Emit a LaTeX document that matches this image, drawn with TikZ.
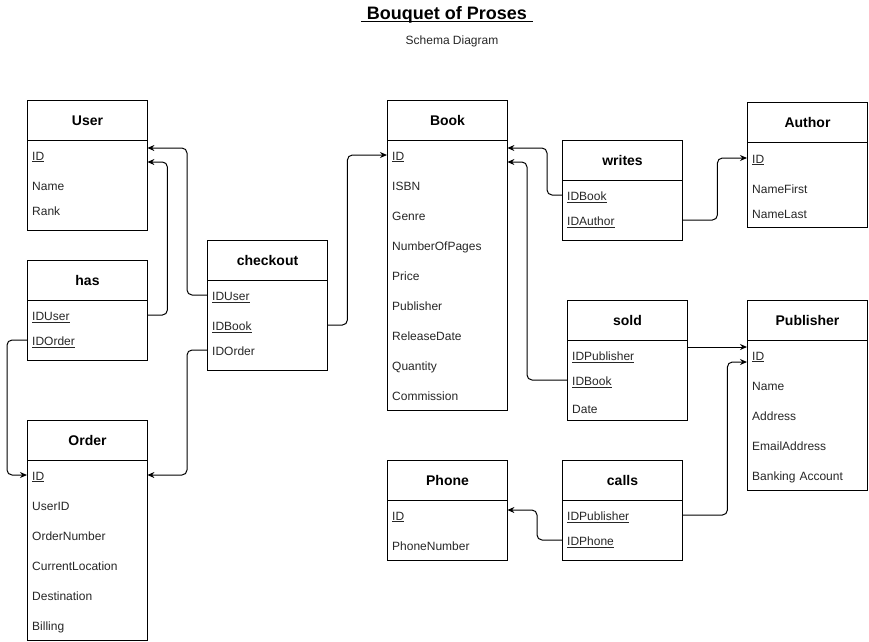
\documentclass[tikz,border=0pt]{standalone}
\usepackage{fontspec}
\setmainfont{Liberation Sans}
\usetikzlibrary{arrows.meta}

\begin{document}
\begin{tikzpicture}[x=1pt,y=-1pt]
    \tikzstyle{every node}=[inner sep=0pt];
    \tikzstyle{tblhead}=[draw,line width=1pt,anchor=north west,minimum width=120pt,minimum height=40pt,text height=10pt,text depth=1pt,font=\bfseries\fontsize{14}{16}\selectfont];
    \tikzstyle{tblbody}=[draw,line width=1pt,anchor=north west,minimum width=120pt];
    \tikzstyle{field}=[anchor=west,text width=110pt,align=left,inner xsep=5pt,text height=11pt,text depth=0.5pt,font=\fontsize{12}{14}\selectfont,text=black!85];
    \tikzstyle{fk}=[line width=1pt,rounded corners=5pt,-{Stealth[length=7pt,width=6pt]}];
    \useasboundingbox (0,0) rectangle (869,641);
    %title
    \node[font=\bfseries\fontsize{18}{22}\selectfont] (title) at (447,15) {Bouquet of Proses};
    \draw[line width=1.2pt] ([xshift=-6pt,yshift=-1.5pt]title.base west) -- ([xshift=6pt,yshift=-1.5pt]title.base east);
    \node[font=\fontsize{12}{14}\selectfont,text=black!85] (subtitle) at (452,41) {Schema Diagram};
    %User
    \node[tblbody,minimum height=90pt] (userbox) at (27,140) {};
    \node[tblhead] (user) at (27,100) {User};
    \node[field] (userid) at (27,155) {\underline{ID}};
    \node[field] (username) at (27,185) {Name};
    \node[field] (userrank) at (27,210) {Rank};
    %has
    \node[tblbody,minimum height=60pt] (hasbox) at (27,300) {};
    \node[tblhead] (has) at (27,260) {has};
    \node[field] (hasuser) at (27,315) {\underline{IDUser}};
    \node[field] (hasorder) at (27,340) {\underline{IDOrder}};
    %checkout
    \node[tblbody,minimum height=90pt] (ckbox) at (207,280) {};
    \node[tblhead] (checkout) at (207,240) {checkout};
    \node[field] (ckuser) at (207,295) {\underline{IDUser}};
    \node[field] (ckbook) at (207,325) {\underline{IDBook}};
    \node[field] (ckorder) at (207,350) {IDOrder};
    %Order
    \node[tblbody,minimum height=180pt] (orderbox) at (27,460) {};
    \node[tblhead] (order) at (27,420) {Order};
    \node[field] (orderid) at (27,475) {\underline{ID}};
    \node[field] (orderuser) at (27,505) {UserID};
    \node[field] (ordernum) at (27,535) {OrderNumber};
    \node[field] (orderloc) at (27,565) {CurrentLocation};
    \node[field] (orderdest) at (27,595) {Destination};
    \node[field] (orderbill) at (27,625) {Billing};
    %Book
    \node[tblbody,minimum height=270pt] (bookbox) at (387,140) {};
    \node[tblhead] (book) at (387,100) {Book};
    \node[field] (bookid) at (387,155) {\underline{ID}};
    \node[field] (bookisbn) at (387,185) {ISBN};
    \node[field] (bookgenre) at (387,215) {Genre};
    \node[field] (bookpages) at (387,245) {NumberOfPages};
    \node[field] (bookprice) at (387,275) {Price};
    \node[field] (bookpub) at (387,305) {Publisher};
    \node[field] (bookdate) at (387,335) {ReleaseDate};
    \node[field] (bookqty) at (387,365) {Quantity};
    \node[field] (bookcomm) at (387,395) {Commission};
    %writes
    \node[tblbody,minimum height=60pt] (wrbox) at (562,180) {};
    \node[tblhead] (writes) at (562,140) {writes};
    \node[field] (wrbook) at (562,195) {\underline{IDBook}};
    \node[field] (wrauthor) at (562,220) {\underline{IDAuthor}};
    %Author
    \node[tblbody,minimum height=85pt] (authorbox) at (747,142) {};
    \node[tblhead] (author) at (747,102) {Author};
    \node[field] (authorid) at (747,158) {\underline{ID}};
    \node[field] (authorfirst) at (747,188) {NameFirst};
    \node[field] (authorlast) at (747,213) {NameLast};
    %sold
    \node[tblbody,minimum height=80pt] (soldbox) at (567,340) {};
    \node[tblhead] (sold) at (567,300) {sold};
    \node[field] (soldpub) at (567,355) {\underline{IDPublisher}};
    \node[field] (soldbook) at (567,380) {\underline{IDBook}};
    \node[field] (solddate) at (567,408) {Date};
    %Publisher
    \node[tblbody,minimum height=150pt] (pubbox) at (747,340) {};
    \node[tblhead] (publisher) at (747,300) {Publisher};
    \node[field] (pubid) at (747,355) {\underline{ID}};
    \node[field] (pubname) at (747,385) {Name};
    \node[field] (pubaddr) at (747,415) {Address};
    \node[field] (pubmail) at (747,445) {EmailAddress};
    \node[field] (pubbank) at (747,475) {Banking Account};
    %Phone
    \node[tblbody,minimum height=60pt] (phonebox) at (387,500) {};
    \node[tblhead] (phone) at (387,460) {Phone};
    \node[field] (phoneid) at (387,515) {\underline{ID}};
    \node[field] (phonenum) at (387,545) {PhoneNumber};
    %calls
    \node[tblbody,minimum height=60pt] (callbox) at (562,500) {};
    \node[tblhead] (calls) at (562,460) {calls};
    \node[field] (callpub) at (562,515) {\underline{IDPublisher}};
    \node[field] (callphone) at (562,540) {\underline{IDPhone}};
    %keys
    \draw[fk] (ckuser.west) -- ++(-20,0) |- ([yshift=7pt]userid.east);
    \draw[fk] (hasuser.east) -- ++(20,0) |- ([yshift=-7pt]userid.east);
    \draw[fk] (hasorder.west) -- ++(-20,0) |- (orderid.west);
    \draw[fk] (ckorder.west) -- ++(-20,0) |- (orderid.east);
    \draw[fk] (ckbook.east) -- ++(20,0) |- (bookid.west);
    \draw[fk] (wrbook.west) -- ++(-15,0) |- ([yshift=7pt]bookid.east);
    \draw[fk] (soldbook.west) -- ++(-40,0) |- ([yshift=-7pt]bookid.east);
    \draw[fk] (wrauthor.east) -- ++(35,0) |- (authorid.west);
    \draw[fk] ([yshift=8pt]soldpub.east) -- ([yshift=8pt]pubid.west);
    \draw[fk] (callpub.east) -- ++(45,0) |- ([yshift=-7pt]pubid.west);
    \draw[fk] (callphone.west) -- ++(-25,0) |- ([yshift=5pt]phoneid.east);
  \end{tikzpicture}
\end{document}
